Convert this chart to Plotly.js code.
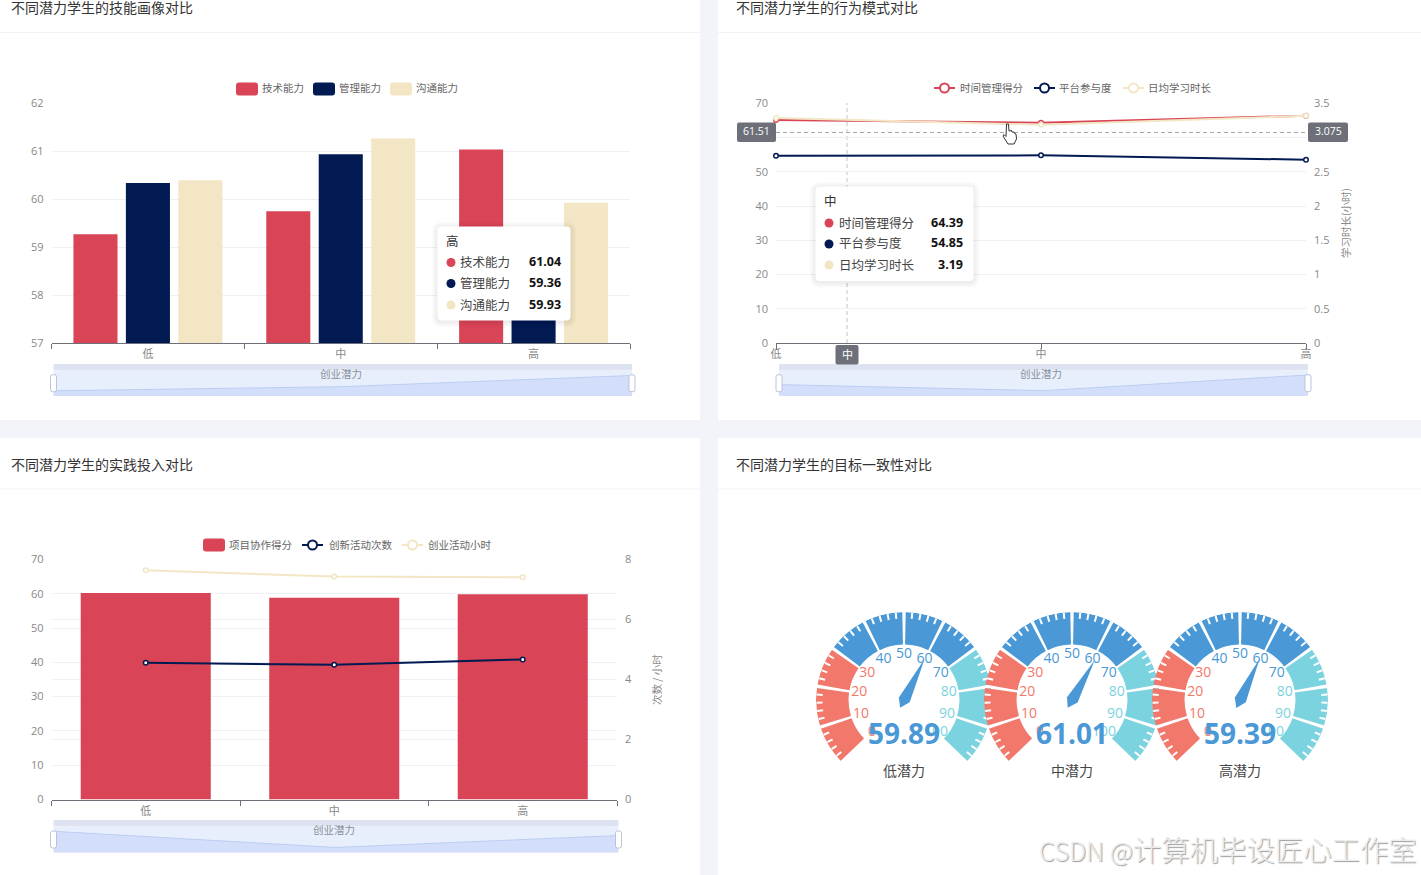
<!DOCTYPE html>
<html>
<head>
<meta charset="utf-8">
<script src="https://cdn.plot.ly/plotly-3.0.1.min.js"></script>
<style>html,body{margin:0;padding:0;background:#f3f4f9;overflow:hidden}#chart{width:1421px;height:875px}</style>
</head>
<body>
<div id="chart"></div>
<script>
const potentialLevels = ['低', '中', '高'];
const skillTech = [59.27, 59.75, 61.04];
const skillMgmt = [60.34, 60.94, 59.36];
const skillComm = [60.4, 61.27, 59.93];
const behaviorTime = [65.18, 64.39, 66.43];
const behaviorPlatform = [54.7, 54.85, 53.57];
const behaviorStudy = [3.288, 3.19, 3.32];
const practiceProject = [60.2, 58.86, 59.85];
const practiceInnovation = [4.56, 4.49, 4.67];
const practiceHours = [7.64, 7.43, 7.41];
const gaugeLevels = ['低潜力', '中潜力', '高潜力'];
const gaugeValues = [59.89, 61.01, 59.39];
const gaugeTicks = [0, 10, 20, 30, 40, 50, 60, 70, 80, 90, 100];
const gaugeSegments = [5, 15, 25, 35, 45, 55, 65, 75, 85, 95];
const cursorLeft = '61.51', cursorRight = '3.075';

const RED = '#d94557', NAVY = '#021a52', BEIGE = '#f3e6c5';
const G_RED = '#f2786b', G_BLUE = '#4a98d5', G_CYAN = '#7cd3e0';
const FONT = '"Noto Sans CJK SC","Open Sans",sans-serif';
const NUM = '"Open Sans","Noto Sans CJK SC",sans-serif';
const W = 1421, H = 875;
const px = x => x / W, py = y => 1 - y / H;
const gaugeColor = v => v <= 30 ? G_RED : v <= 70 ? G_BLUE : G_CYAN;

const shapes = [], annotations = [];
function rect(x0, y0, x1, y1, fill, layer, line) {
  shapes.push({type: 'rect', xref: 'paper', yref: 'paper', x0: px(x0), x1: px(x1), y0: py(y1), y1: py(y0),
    fillcolor: fill, line: line || {width: 0}, layer: layer || 'below'});
}
function rrect(x0, y0, x1, y1, r, fill, layer, line) {
  const X = px, Y = py;
  const path = `M${X(x0 + r)},${Y(y0)} L${X(x1 - r)},${Y(y0)} Q${X(x1)},${Y(y0)} ${X(x1)},${Y(y0 + r)} ` +
    `L${X(x1)},${Y(y1 - r)} Q${X(x1)},${Y(y1)} ${X(x1 - r)},${Y(y1)} L${X(x0 + r)},${Y(y1)} ` +
    `Q${X(x0)},${Y(y1)} ${X(x0)},${Y(y1 - r)} L${X(x0)},${Y(y0 + r)} Q${X(x0)},${Y(y0)} ${X(x0 + r)},${Y(y0)} Z`;
  shapes.push({type: 'path', xref: 'paper', yref: 'paper', path, fillcolor: fill, line: line || {width: 0}, layer: layer || 'above'});
}
function circle(cx, cy, r, fill, lineColor, lineW, layer) {
  shapes.push({type: 'circle', xref: 'paper', yref: 'paper', x0: px(cx - r), x1: px(cx + r), y0: py(cy + r), y1: py(cy - r),
    fillcolor: fill, line: {color: lineColor || fill, width: lineW || 0}, layer: layer || 'above'});
}
function hline(x0, x1, y, color, w, dash, layer) {
  shapes.push({type: 'line', xref: 'paper', yref: 'paper', x0: px(x0), x1: px(x1), y0: py(y), y1: py(y),
    line: {color, width: w, dash: dash || 'solid'}, layer: layer || 'above'});
}
function label(x, y, text, o) {
  o = o || {};
  const anchor = o.anchor || 'left';
  annotations.push({xref: 'paper', yref: 'paper', x: px(anchor === 'left' ? x - 1 : x), y: py(y - 1), text, showarrow: false,
    xanchor: anchor, yanchor: 'middle', textangle: o.angle || 0, borderpad: 0,
    font: {family: o.family || FONT, size: o.size || 11, color: o.color || '#666', weight: o.weight || 400, shadow: o.shadow || 'none'}});
}

// Cards
rect(0, -10, 700, 420, '#ffffff');
rect(718, -10, 1421, 420, '#ffffff');
rect(0, 438, 700, 885, '#ffffff');
rect(718, 438, 1421, 885, '#ffffff');
hline(0, 700, 32.5, '#f2f3f6', 1, 'solid', 'below');
hline(718, 1421, 32.5, '#f2f3f6', 1, 'solid', 'below');
hline(0, 700, 489, '#f2f3f6', 1, 'solid', 'below');
hline(718, 1421, 489, '#f2f3f6', 1, 'solid', 'below');
label(11, 7.5, '不同潜力学生的技能画像对比', {size: 14, color: '#333'});
label(736, 7.5, '不同潜力学生的行为模式对比', {size: 14, color: '#333'});
label(11, 464.5, '不同潜力学生的实践投入对比', {size: 14, color: '#333'});
label(736, 464.5, '不同潜力学生的目标一致性对比', {size: 14, color: '#333'});

// Custom legends
function legendBar(x, y, color, text, tx) {
  rrect(x, y - 6.5, x + 22, y + 6.5, 3, color, 'below');
  label(tx, y, text, {size: 10.5});
}
function legendLine(x, y, color, text, tx) {
  hline(x, x + 21, y, color, 2, 'solid', 'below');
  circle(x + 10.5, y, 4.5, '#ffffff', color, 2, 'below');
  label(tx, y, text, {size: 10.5});
}
legendBar(236, 89, RED, '技术能力', 262);
legendBar(313, 89, NAVY, '管理能力', 339);
legendBar(390, 89, BEIGE, '沟通能力', 416);
legendLine(934, 88, RED, '时间管理得分', 960);
legendLine(1034, 88, NAVY, '平台参与度', 1059);
legendLine(1123, 88, BEIGE, '日均学习时长', 1148);
legendBar(203, 545, RED, '项目协作得分', 229);
legendLine(302, 545, NAVY, '创新活动次数', 329);
legendLine(402, 545, BEIGE, '创业活动小时', 428);

// Zoom slider frames
function slider(x0, x1, y0, y1, y2, name, nameX) {
  rect(x0, y0, x1, y1, '#dde3f0');
  rect(x0, y1, x1, y2, '#e8effc');
  rrect(x0 - 3, (y1 + y2) / 2 - 8.5, x0 + 3, (y1 + y2) / 2 + 8.5, 2, '#ffffff', 'above', {color: '#b9c4da', width: 1});
  rrect(x1 - 3, (y1 + y2) / 2 - 8.5, x1 + 3, (y1 + y2) / 2 + 8.5, 2, '#ffffff', 'above', {color: '#b9c4da', width: 1});
  label(nameX, y0 + 10, name, {size: 10.5, color: '#8a8f99', anchor: 'center'});
}
slider(53.5, 632, 364, 370.5, 396, '创业潜力', 340.5);
slider(779, 1308, 364, 370.5, 396, '创业潜力', 1041);
slider(53.5, 618.5, 820, 826.5, 852.5, '创业潜力', 333.5);

// Axis side titles
label(1345, 224, '学习时长(小时)', {size: 10.5, color: '#8a8a8a', angle: -90, anchor: 'center'});
label(656, 681, '次数 / 小时', {size: 10.5, color: '#8a8a8a', angle: -90, anchor: 'center'});

// Tooltips
function tooltip(x0, y0, x1, y1, title, rows, dotX, nameX, valX, tY, rowY) {
  for (let i = 6; i >= 1; i--) rrect(x0 - i, y0 - i + 1, x1 + i, y1 + i + 1, 4 + i, 'rgba(0,0,0,0.012)');
  rrect(x0, y0, x1, y1, 4, '#ffffff');
  label(dotX - 5, tY, title, {size: 12.5, color: '#333'});
  rows.forEach((r, i) => {
    circle(dotX, rowY[i], 4.5, r[2]);
    label(nameX, rowY[i], r[0], {size: 12.5, color: '#444'});
    label(valX, rowY[i], r[1], {size: 12.5, color: '#111', weight: 700, anchor: 'right', family: NUM});
  });
}
tooltip(437.5, 226.5, 570.5, 320.5, potentialLevels[2],
  [['技术能力', skillTech[2].toFixed(2), RED], ['管理能力', skillMgmt[2].toFixed(2), NAVY], ['沟通能力', skillComm[2].toFixed(2), BEIGE]],
  451, 460, 561.5, 241.5, [262.5, 283.5, 305]);
tooltip(815.5, 186.5, 973.5, 281, potentialLevels[1],
  [['时间管理得分', behaviorTime[1].toFixed(2), RED], ['平台参与度', behaviorPlatform[1].toFixed(2), NAVY], ['日均学习时长', behaviorStudy[1].toFixed(2), BEIGE]],
  829, 839, 964, 201.5, [223, 244, 265]);

// Crosshair
shapes.push({type: 'line', xref: 'paper', yref: 'paper', x0: px(847), x1: px(847), y0: py(343), y1: py(103),
  line: {color: '#c4c4c4', width: 1, dash: '4px,3px'}, layer: 'below'});
hline(776, 1306, 132.5, '#a9a9a9', 1, '4px,3px', 'below');
rrect(737, 122.5, 776, 142, 2, '#6e7079');
rrect(1308, 122.5, 1348, 142, 2, '#6e7079');
rrect(835.5, 345, 858.5, 364.5, 2, '#6e7079');
label(756.5, 132.5, cursorLeft, {size: 10.5, color: '#fff', anchor: 'center', family: NUM});
label(1328, 132.5, cursorRight, {size: 10.5, color: '#fff', anchor: 'center', family: NUM});
label(847, 355, potentialLevels[1], {size: 11, color: '#fff', anchor: 'center'});

// Pointer glyph of the cursor
const handPts = [[1006.5,124],[1008.5,124],[1009,131],[1011.5,130.5],[1012,132],[1014,132],[1014.5,133.5],[1016,134],[1016.5,139],[1014,144],[1008,144],[1003,136],[1004,134.5],[1006,136.5]];
shapes.push({type: 'path', xref: 'paper', yref: 'paper', layer: 'above', fillcolor: '#ffffff', line: {color: '#333', width: 1},
  path: handPts.map((p, i) => (i ? 'L' : 'M') + px(p[0]) + ',' + py(p[1])).join(' ') + ' Z'});

// Watermark
label(1039, 849, '<span style="font-size:25.4px">CSDN @</span>计算机毕设匠心工作室', {size: 28.4, color: '#ececec', weight: 300, shadow: '1px 1px 1px #9a9a9a'});

// Traces
const traces = [];
const barT = (name, y, color) => ({type: 'bar', name, x: potentialLevels, y, marker: {color}, xaxis: 'x', yaxis: 'y', hoverinfo: 'x+y'});
traces.push(barT('技术能力', skillTech, RED), barT('管理能力', skillMgmt, NAVY), barT('沟通能力', skillComm, BEIGE));
const lineT = (name, y, color, xa, ya) => ({type: 'scatter', mode: 'lines+markers', name, x: potentialLevels, y, xaxis: xa, yaxis: ya, cliponaxis: false,
  line: {color, width: 2}, marker: {size: 4.5, color: '#fff', line: {color, width: 1.5}}});
traces.push(lineT('时间管理得分', behaviorTime, RED, 'x2', 'y2'));
traces.push(lineT('平台参与度', behaviorPlatform, NAVY, 'x2', 'y2'));
traces.push(lineT('日均学习时长', behaviorStudy, BEIGE, 'x2', 'y3'));
traces.push({type: 'bar', name: '项目协作得分', x: potentialLevels, y: practiceProject, width: 0.69, marker: {color: RED}, xaxis: 'x3', yaxis: 'y4'});
traces.push(lineT('创新活动次数', practiceInnovation, NAVY, 'x3', 'y5'));
traces.push(lineT('创业活动小时', practiceHours, BEIGE, 'x3', 'y5'));
const miniT = (y, xa, ya) => ({type: 'scatter', mode: 'lines', x: potentialLevels, y, xaxis: xa, yaxis: ya, fill: 'tozeroy',
  fillcolor: '#d3dffa', line: {color: '#bccdf3', width: 1}, hoverinfo: 'skip', showlegend: false});
traces.push(miniT(skillTech, 'x4', 'y6'), miniT(behaviorTime, 'x5', 'y7'), miniT(practiceProject, 'x6', 'y8'));

// Gauges
const A = v => v * 2.7;
const gaugeCenters = [904, 1072, 1240], gaugeCy = 700, gaugeR = 88;
const polarLayouts = {};
gaugeValues.forEach((val, i) => {
  const sp = i ? 'polar' + (i + 1) : 'polar';
  traces.push({type: 'barpolar', subplot: sp, r: gaugeSegments.map(() => 0.37), base: gaugeSegments.map(() => 0.63),
    theta: gaugeSegments.map(A), width: gaugeSegments.map(() => 24.8), marker: {color: gaugeSegments.map(gaugeColor), line: {width: 0}}, hoverinfo: 'skip'});
  traces.push({type: 'scatterpolar', subplot: sp, mode: 'text', r: gaugeTicks.map(() => 0.515), theta: gaugeTicks.map(A), text: gaugeTicks.map(String),
    textposition: 'middle center', textfont: {family: NUM, size: 14, color: gaugeTicks.map(gaugeColor)}, hoverinfo: 'skip'});
  const t = A(val);
  traces.push({type: 'scatterpolar', subplot: sp, mode: 'lines', fill: 'toself', fillcolor: gaugeColor(val),
    r: [0.52, 0.07, 0.10, 0.065, 0.52], theta: [t, t + 85, t + 180, t - 90, t], line: {width: 0, color: gaugeColor(val)}, hoverinfo: 'skip'});
  const cx = gaugeCenters[i];
  polarLayouts[sp] = {
    domain: {x: [px(cx - gaugeR), px(cx + gaugeR)], y: [py(gaugeCy + gaugeR), py(gaugeCy - gaugeR)]},
    bgcolor: 'rgba(0,0,0,0)',
    radialaxis: {range: [0, 1], visible: false},
    angularaxis: {rotation: 225, direction: 'clockwise', thetaunit: 'degrees', tick0: 0, dtick: 5.4,
      ticks: 'inside', ticklen: 6, tickwidth: 2, tickcolor: '#ffffff', showgrid: false, showline: false, showticklabels: false}
  };
  label(cx, 733.5, val.toFixed(2), {size: 28, weight: 700, color: gaugeColor(val), anchor: 'center', family: NUM});
  label(cx, 770.5, gaugeLevels[i], {size: 14, color: '#464646', anchor: 'center'});
});

// Axes
const GRID = '#eef0f6', AXIS = '#6e7079', TICK = '#888888';
const tf = {family: NUM, size: 11, color: TICK};
const xCat = (d, y, range, extra) => Object.assign({
  type: 'category', categoryorder: 'array', categoryarray: potentialLevels, domain: [px(d[0]), px(d[1])], range,
  anchor: y, showgrid: false, showline: true, linecolor: AXIS, linewidth: 1, ticks: 'outside', ticklen: 5, tickcolor: AXIS,
  tickfont: Object.assign({}, tf, {family: FONT}), ticklabelstandoff: 1, zeroline: false, fixedrange: true}, extra || {});
const yLin = (d, range, dtick, extra) => Object.assign({
  domain: [py(d[1]), py(d[0])], range, dtick, tick0: 0, showgrid: true, gridcolor: GRID, gridwidth: 1, zeroline: false, showline: false,
  ticks: '', ticklabelstandoff: 7, tickfont: tf, fixedrange: true}, extra || {});
const miniX = (d, y) => ({type: 'category', categoryorder: 'array', categoryarray: potentialLevels, domain: [px(d[0]), px(d[1])], range: [0, 2], anchor: y, visible: false, fixedrange: true});
const miniY = (d, range) => ({domain: [py(d[1]), py(d[0])], range, visible: false, fixedrange: true});

const layout = Object.assign({
  width: W, height: H, margin: {l: 0, r: 0, t: 0, b: 0, pad: 0}, autosize: false,
  paper_bgcolor: '#f3f4f9', plot_bgcolor: 'rgba(0,0,0,0)', showlegend: false, hovermode: false,
  barmode: 'group', bargap: 0.184, bargroupgap: 0.16,
  font: {family: FONT},
  xaxis: xCat([51.5, 630], 'y', [-0.5, 2.5], {tickson: 'boundaries'}),
  yaxis: yLin([103.5, 343], [57, 62], 1, {anchor: 'x', tick0: 57}),
  xaxis2: xCat([776, 1306], 'y2', [0, 2], {ticklabelstandoff: -4}),
  yaxis2: yLin([103.5, 343], [0, 70], 10, {anchor: 'x2'}),
  yaxis3: yLin([103.5, 343], [0, 3.5], 0.5, {anchor: 'x2', overlaying: 'y2', side: 'right', showgrid: false}),
  xaxis3: xCat([51.5, 617], 'y4', [-0.5, 2.5], {tickson: 'boundaries'}),
  yaxis4: yLin([559.5, 799.5], [0, 70], 10, {anchor: 'x3'}),
  yaxis5: yLin([559.5, 799.5], [0, 8], 2, {anchor: 'x3', overlaying: 'y4', side: 'right'}),
  xaxis4: miniX([53.5, 632], 'y6'),
  yaxis6: miniY([370.5, 396], [58.67, 61.62]),
  xaxis5: miniX([779, 1308], 'y7'),
  yaxis7: miniY([370.5, 396], [63.7, 67.01]),
  xaxis6: miniX([53.5, 618.5], 'y8'),
  yaxis8: miniY([826.5, 852.5], [58.44, 60.6]),
  shapes, annotations
}, polarLayouts);

Plotly.newPlot('chart', traces, layout, {displayModeBar: false, responsive: false});
</script>
</body>
</html>
